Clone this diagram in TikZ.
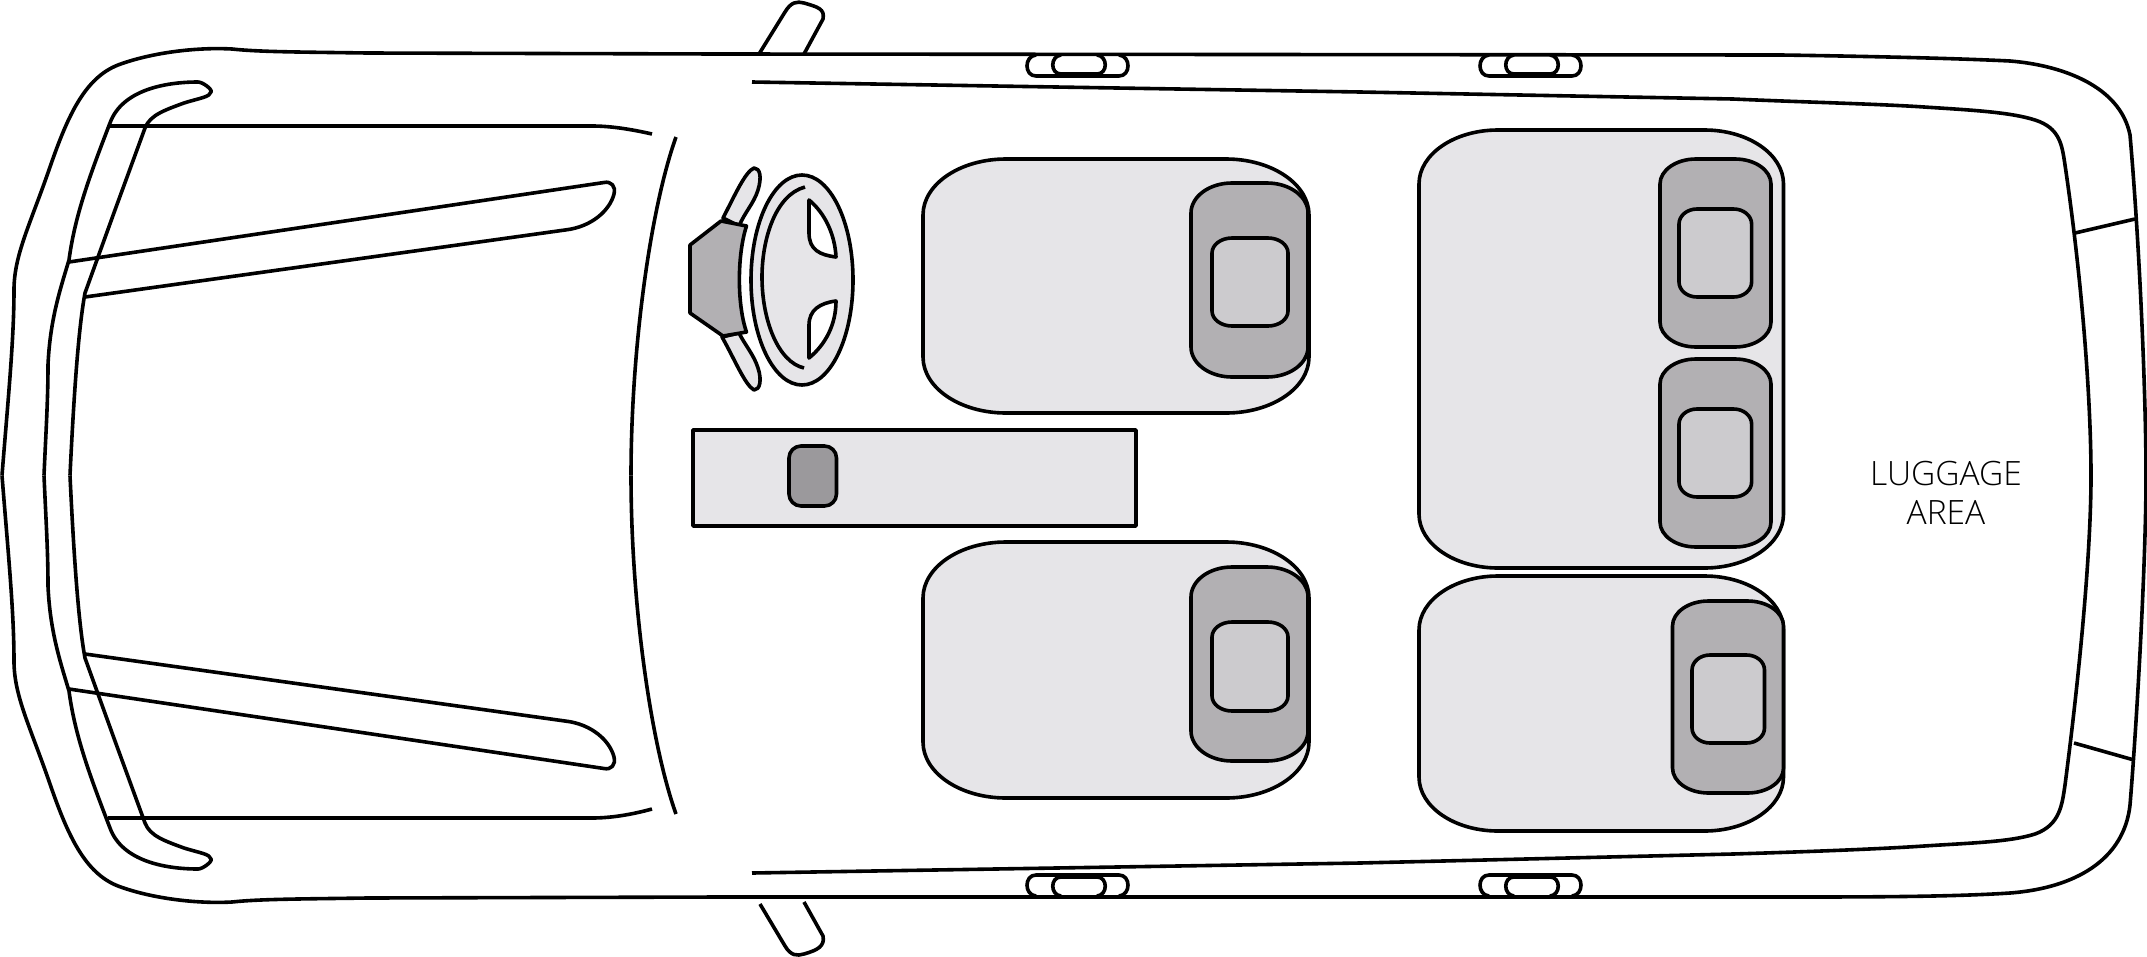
\documentclass[tikz,border=0pt]{standalone}
\usepackage{fontspec}
\setmainfont{Open Sans Light}
\definecolor{seatlight}{HTML}{E6E5E8}
\definecolor{seatmid}{HTML}{B2B0B3}
\definecolor{seathead}{HTML}{CCCBCE}
\definecolor{knob}{HTML}{9B999C}
\tikzset{
  ln/.style={line width=3.6pt,line join=round,line cap=butt,black},
}
% elliptical-corner rectangle: x1 y1 x2 y2 rx ry fill
\newcommand\seatrect[7]{%
  \pgfmathsetmacro\kx{0.4477*#5}\pgfmathsetmacro\ky{0.4477*#6}%
  \draw[ln,fill=#7]
   (#1+#5,#2) -- (#3-#5,#2)
   .. controls (#3-\kx,#2) and (#3,#2+\ky) .. (#3,#2+#6)
   -- (#3,#4-#6)
   .. controls (#3,#4-\ky) and (#3-\kx,#4) .. (#3-#5,#4)
   -- (#1+#5,#4)
   .. controls (#1+\kx,#4) and (#1,#4-\ky) .. (#1,#4-#6)
   -- (#1,#2+#6)
   .. controls (#1,#2+\ky) and (#1+\kx,#2) .. (#1+#5,#2) -- cycle;}
% upper half of the front of the car; drawn twice (mirrored)
\newcommand\fronthalf{%
  \draw[ln] (2,475.5) .. controls (8,400) and (14,340) .. (14,290)
     .. controls (14,255) and (30,225) .. (50,167)
     .. controls (68,115) and (85,78) .. (118,65)
     .. controls (150,53) and (195,47) .. (232,49)
     .. controls (260,52) and (300,52) .. (367,53) -- (720,54);
  \draw[ln] (44,475.5) .. controls (46,430) and (48,400) .. (48,365)
     .. controls (50,320) and (60,290) .. (69,260)
     .. controls (75,215) and (90,175) .. (110,123)
     .. controls (122,90) and (165,82) .. (198,82)
     .. controls (203,82) and (213,90) .. (211,92)
     .. controls (210,97) and (200,98) .. (184,103)
     .. controls (165,110) and (150,115) .. (145,128)
     -- (115,210) -- (85,293)
     .. controls (80,320) and (75,370) .. (70,475.5);
  \draw[ln] (69,262) -- (604,182.5)
     .. controls (611,181) and (616,186) .. (614,194)
     .. controls (610,210) and (592,227) .. (565,230) -- (85,297);
  \draw[ln] (676,137) .. controls (650,210) and (631,350) .. (631,475.5);
  \foreach \dx in {0,453}{
    \draw[ln] (1036+\dx,55) .. controls (1024+\dx,56) and (1024+\dx,76) .. (1036+\dx,76) -- (1119+\dx,76) .. controls (1131+\dx,76) and (1131+\dx,56) .. (1119+\dx,55);
    \draw[ln] (1061+\dx,55) .. controls (1050+\dx,56) and (1050+\dx,74) .. (1061+\dx,74) -- (1097+\dx,74) .. controls (1108+\dx,74) and (1108+\dx,56) .. (1097+\dx,55);
  }
}
\begin{document}
\begin{tikzpicture}[x=1pt,y=-1pt]
\useasboundingbox (0,0) rectangle (2147,956);
\fronthalf
\begin{scope}[cm={1,0,0,-1,(0pt,-951pt)}]
\fronthalf
\end{scope}
% hood lines
\draw[ln] (109,126) -- (592,126) .. controls (610,126) and (630,129) .. (652,134);
\draw[ln] (108,818) -- (592,818) .. controls (610,818) and (630,815) .. (652,809);
% door mirrors
\draw[ln] (759,54) -- (785,12) .. controls (791,2) and (797,1) .. (804,3) .. controls (818,7) and (825,9) .. (823,19) -- (804,54);
\draw[ln] (760,904) -- (785,946) .. controls (791,956) and (797,956) .. (804,954) .. controls (818,950) and (825,946) .. (823,936) -- (804,902);
% rest of body
\draw[ln] (720,54) -- (1781,55) .. controls (1850,56) and (1950,58) .. (2010,61)
   .. controls (2060,65) and (2120,85) .. (2130,135)
   .. controls (2140,250) and (2146,400) .. (2146,476);
\draw[ln] (720,897) -- (1781,897) .. controls (1860,897) and (1950,897) .. (2010,893)
   .. controls (2075,888) and (2124,860) .. (2130,805)
   .. controls (2137,720) and (2146,560) .. (2146,476);
\draw[ln] (752,82) -- (1360,92) -- (1733,99) .. controls (1800,102) and (1880,104) .. (1924,107)
   .. controls (1970,110) and (2010,112) .. (2035,120)
   .. controls (2060,128) and (2062,145) .. (2065,165)
   .. controls (2082,280) and (2091,400) .. (2091,476);
\draw[ln] (752,873) -- (1360,863) -- (1733,854) .. controls (1800,852) and (1880,849) .. (1924,846)
   .. controls (1970,843) and (2010,842) .. (2035,834)
   .. controls (2060,825) and (2062,805) .. (2065,785)
   .. controls (2080,670) and (2091,550) .. (2091,476);
\draw[ln] (2075,233) -- (2135,219);
\draw[ln] (2074,743) -- (2134,760);
% steering column stalks
\draw[ln,fill=seatlight] (723,218) .. controls (735,195) and (745,172) .. (754,168) .. controls (760,168) and (762,177) .. (758,190) .. controls (754,203) and (745,212) .. (739,226) -- cycle;
\draw[ln,fill=seatlight] (722,337) .. controls (735,360) and (745,385) .. (754,390) .. controls (760,390) and (762,380) .. (758,368) .. controls (754,355) and (745,345) .. (739,333) -- cycle;
% hub
\draw[ln,fill=seatmid] (690,245) -- (721,221) -- (746.5,226) .. controls (737,255) and (737,305) .. (746.5,332) -- (723,336) -- (690,313) -- cycle;
% wheel
\draw[ln,fill=seatlight] (802,280) ellipse[x radius=51,y radius=105];
\draw[ln] (805,187) .. controls (775,195) and (762,240) .. (762,277) .. controls (762,320) and (778,362) .. (804,368);
\draw[ln,fill=white] (809,200) .. controls (825,213) and (835,235) .. (836,257) .. controls (820,255) and (809,250) .. (809,233) -- cycle;
\draw[ln,fill=white] (836,301) .. controls (820,303) and (809,310) .. (809,325) -- (809,358) .. controls (825,345) and (836,325) .. (836,301) -- cycle;
% console
\draw[ln,fill=seatlight] (693,430) rectangle (1136,526);
\seatrect{789}{446}{836.5}{506}{12}{12}{knob}
% front seats
\seatrect{923}{159}{1309}{413}{83}{56}{seatlight}
\seatrect{1191}{183}{1308}{377}{41}{30}{seatmid}
\seatrect{1212}{238}{1288}{326}{20}{15}{seathead}
\seatrect{923}{542}{1309}{798}{83}{56}{seatlight}
\seatrect{1191}{567}{1308}{761}{41}{30}{seatmid}
\seatrect{1212}{622}{1288}{711}{20}{15}{seathead}
% rear bench
\seatrect{1419}{130}{1783.5}{568}{79}{54}{seatlight}
\seatrect{1660}{159}{1771}{347}{36}{25}{seatmid}
\seatrect{1679}{209}{1751.6}{297}{18}{15}{seathead}
\seatrect{1660}{359}{1771}{547}{36}{25}{seatmid}
\seatrect{1679}{409}{1751.6}{497}{18}{15}{seathead}
% rear single
\seatrect{1419}{576}{1783.5}{831}{79}{54}{seatlight}
\seatrect{1672.5}{601}{1783.5}{793}{36}{25}{seatmid}
\seatrect{1692}{655}{1764.5}{743}{18}{15}{seathead}
% label
\node[font=\fontsize{33.5}{39}\selectfont,inner sep=0pt,anchor=base] (luggage) at (1946,485) {LUGGAGE};
\node[font=\fontsize{33.5}{39}\selectfont,inner sep=0pt,anchor=base] (area) at (1946,524) {AREA};
\end{tikzpicture}
\end{document}
